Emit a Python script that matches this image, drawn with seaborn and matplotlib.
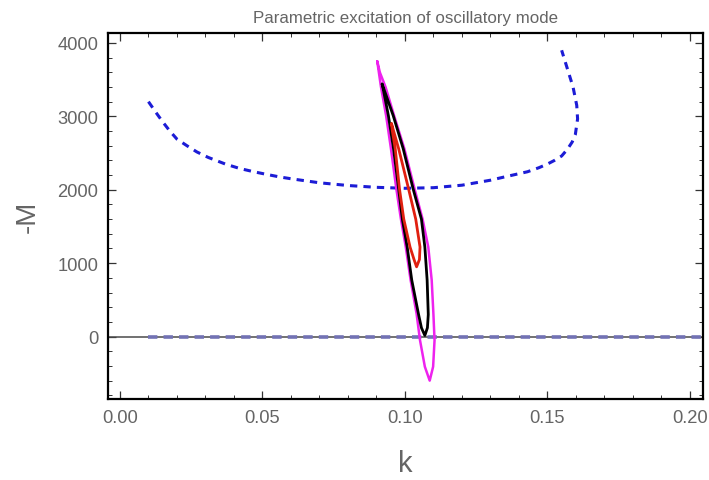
import matplotlib
matplotlib.use("Agg")
import matplotlib.pyplot as plt
import seaborn as sns
import numpy as np
import pandas as pd
from matplotlib.ticker import MultipleLocator

# ---- data ----
# blue dashed threshold curve (parametric, k vs -M)
blue_k = [0.0100, 0.0125, 0.0150, 0.0175, 0.0200, 0.0235, 0.0270, 0.0310, 0.0370,
          0.0420, 0.0470, 0.0520, 0.0560, 0.0600, 0.0700, 0.0800, 0.0900, 0.1000,
          0.1100, 0.1200, 0.1300, 0.1350, 0.1390, 0.1430, 0.1470, 0.1500, 0.1525,
          0.1550, 0.1570, 0.1587, 0.1598, 0.1606, 0.1603, 0.1590, 0.1570, 0.1550]
blue_M = [3200, 3060, 2925, 2800, 2690, 2600, 2515, 2440, 2350,
          2290, 2245, 2205, 2175, 2150, 2095, 2058, 2033, 2020,
          2028, 2062, 2130, 2175, 2210, 2245, 2300, 2350, 2400,
          2460, 2550, 2650, 2750, 2965, 3150, 3400, 3650, 3900]

# zero branch (dashed)
zero_k = [0.010, 0.210]
zero_M = [0, 0]

# magenta contour
mag_k = [0.0903, 0.0912, 0.0932, 0.0962, 0.0998, 0.1034, 0.1062, 0.1082, 0.1094,
         0.1100, 0.1104, 0.1099, 0.1087, 0.1070, 0.1053, 0.1041, 0.1020, 0.1003,
         0.0986, 0.0970, 0.0951, 0.0934, 0.0916, 0.0903]
mag_M = [3750, 3600, 3400, 3010, 2560, 2010, 1600, 1220, 770,
         310, -50, -410, -600, -410, -50, 310, 770, 1220,
         1600, 2010, 2560, 3010, 3400, 3750]

# black contour
blk_k = [0.0920, 0.0959, 0.0994, 0.1029, 0.1058, 0.1070, 0.1078, 0.1082, 0.1079,
         0.1070, 0.1058, 0.1048, 0.1024, 0.1008, 0.0991, 0.0978, 0.0960, 0.0942,
         0.0925, 0.0920]
blk_M = [3440, 3010, 2560, 2010, 1600, 1220, 770, 300, 120,
         15, 120, 300, 770, 1220, 1600, 2010, 2560, 3010,
         3350, 3440]

# red contour
red_k = [0.0953, 0.0978, 0.1013, 0.1038, 0.1053, 0.1051, 0.1041, 0.1032, 0.1018,
         0.0996, 0.0981, 0.0966, 0.0956, 0.0953]
red_M = [2900, 2560, 2010, 1600, 1220, 1050, 950, 1050, 1220,
         1600, 2010, 2560, 2800, 2900]

x_ticks = [0.00, 0.05, 0.10, 0.15, 0.20]
x_ticklabels = ["0.00", "0.05", "0.10", "0.15", "0.20"]
y_ticks = [0, 1000, 2000, 3000, 4000]
y_ticklabels = ["0", "1000", "2000", "3000", "4000"]

# ---- plot ----
sns.set_style("white")
plt.rcParams['font.family'] = ['Liberation Sans', 'DejaVu Sans']

fig = plt.figure(figsize=(7.09, 4.81), dpi=100)
ax = fig.add_axes([0.1523, 0.1684, 0.8392, 0.7609])

grey = "#656565"

ax.axhline(0, color="#4a4a4a", lw=1.1, zorder=1)

sns.lineplot(x=zero_k, y=zero_M, sort=False, estimator=None, ax=ax,
             color="#7272b4", lw=2.6, dashes=False, zorder=2)
ax.lines[-1].set_dashes((2.6, 1.7))

sns.lineplot(x=blue_k, y=blue_M, sort=False, estimator=None, ax=ax,
             color="#1c1cd6", lw=2.2, zorder=3)
ax.lines[-1].set_dashes((2.4, 2.0))

sns.lineplot(x=mag_k, y=mag_M, sort=False, estimator=None, ax=ax,
             color="#ee22ee", lw=1.8, zorder=4)
sns.lineplot(x=blk_k, y=blk_M, sort=False, estimator=None, ax=ax,
             color="black", lw=2.0, zorder=5)
sns.lineplot(x=red_k, y=red_M, sort=False, estimator=None, ax=ax,
             color="#e02010", lw=2.0, zorder=6)

ax.set_xlim(-0.0042, 0.2046)
ax.set_ylim(-850, 4135)

ax.set_xticks(x_ticks)
ax.set_xticklabels(x_ticklabels)
ax.set_yticks(y_ticks)
ax.set_yticklabels(y_ticklabels)
ax.xaxis.set_minor_locator(MultipleLocator(0.01))
ax.yaxis.set_minor_locator(MultipleLocator(200))

ax.tick_params(which="both", direction="in", top=True, right=True,
               bottom=True, left=True, color="#333333")
ax.tick_params(which="major", length=6, width=0.9, labelsize=13.2,
               labelcolor=grey, pad=7)
ax.tick_params(which="minor", length=3, width=0.7)

for s in ax.spines.values():
    s.set_color("black")
    s.set_linewidth(1.6)

ax.set_xlabel("k", fontsize=21, color=grey, labelpad=17)
ax.set_ylabel("-M", fontsize=20, color=grey, labelpad=12)
ax.set_title("Parametric excitation of oscillatory mode", fontsize=12.2,
             color=grey, pad=8)

fig.savefig("out.png", dpi=100, facecolor="white")
